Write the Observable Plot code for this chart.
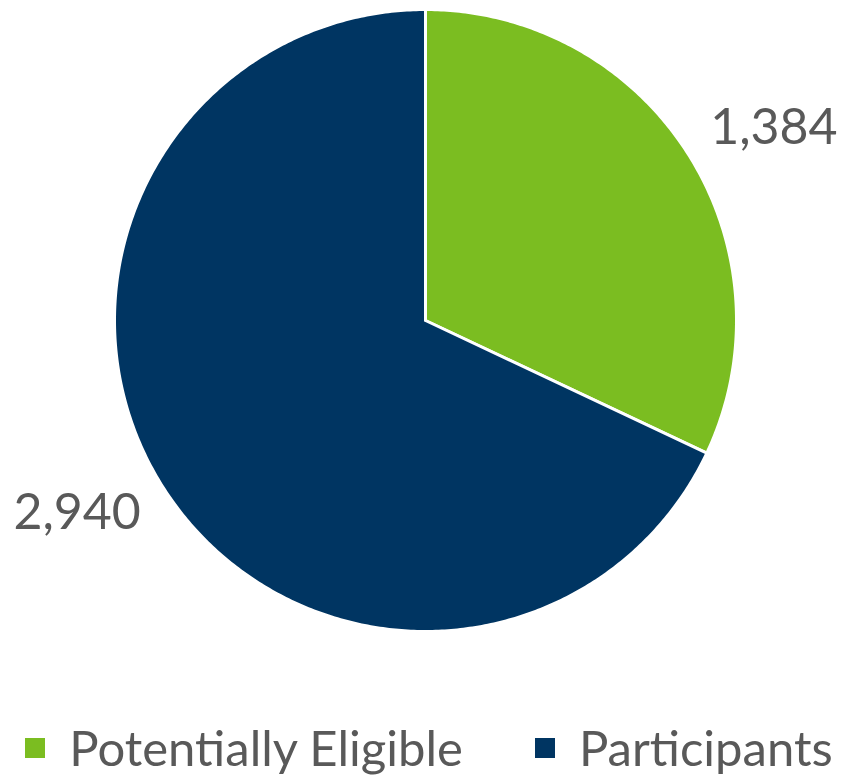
<!DOCTYPE html>
<html>
<head>
<meta charset="utf-8">
<script src="https://cdn.jsdelivr.net/npm/d3@7"></script>
<script src="https://cdn.jsdelivr.net/npm/@observablehq/plot@0.6"></script>
<style>
  html, body { margin: 0; padding: 0; background: #fff; }
  #chart { width: 844px; }
  .legend { display: flex; justify-content: center; align-items: center; font-family: Lato, "Open Sans", sans-serif; font-size: 49px; line-height: 59px; color: #595959; margin-top: 38px; padding-left: 14px; }
  .legend .item { display: flex; align-items: center; }
  .legend .sw { width: 20px; height: 20px; margin-right: 24px; }
</style>
</head>
<body>
<div id="chart"></div>
<script>
const categories = ["Potentially Eligible", "Participants"];
const values = [1384, 2940];
const labels = ["1,384", "2,940"];
const colors = ["#7BBD21", "#003562"];

const data = categories.map((c, i) => ({category: c, value: values[i], label: labels[i]}));
const pie = d3.pie().sort(null).value(d => d.value).startAngle(0).endAngle(2 * Math.PI)(data);

// build slice outlines (unit circle, angle measured clockwise from top)
const pts = [];
pie.forEach(s => {
  const n = Math.max(8, Math.ceil((s.endAngle - s.startAngle) / 0.01));
  pts.push({category: s.data.category, x: 0, y: 0});
  for (let k = 0; k <= n; k++) {
    const a = s.startAngle + (s.endAngle - s.startAngle) * k / n;
    pts.push({category: s.data.category, x: Math.sin(a), y: Math.cos(a)});
  }
  pts.push({category: s.data.category, x: 0, y: 0});
});
const lab = pie.map(s => {
  const a = (s.startAngle + s.endAngle) / 2 + 0.06;
  return {label: s.data.label, x: 1.28 * Math.sin(a), y: 1.28 * Math.cos(a)};
});

const chart = Plot.plot({
  width: 844,
  height: 680,
  marginLeft: 114,
  marginRight: 108,
  marginTop: 9,
  marginBottom: 49,
  x: {domain: [-1, 1], axis: null},
  y: {domain: [-1, 1], axis: null},
  color: {domain: categories, range: colors},
  style: {fontFamily: "Lato, 'Open Sans', sans-serif", overflow: "visible"},
  marks: [
    Plot.line(pts, {x: "x", y: "y", z: "category", fill: "category", stroke: "white", strokeWidth: 3, strokeLinejoin: "round", curve: "linear"}),
    Plot.text(lab, {x: "x", y: "y", text: "label", fontSize: 50, fill: "#595959"})
  ]
});
document.getElementById("chart").appendChild(chart);

const leg = document.createElement("div");
leg.className = "legend";
categories.forEach((c, i) => {
  const it = document.createElement("div");
  it.className = "item";
  it.style.marginLeft = i ? "72px" : "0";
  const sw = document.createElement("span");
  sw.className = "sw";
  sw.style.background = colors[i];
  it.appendChild(sw);
  const t = document.createElement("span");
  t.textContent = c;
  it.appendChild(t);
  leg.appendChild(it);
});
document.getElementById("chart").appendChild(leg);
</script>
</body>
</html>
